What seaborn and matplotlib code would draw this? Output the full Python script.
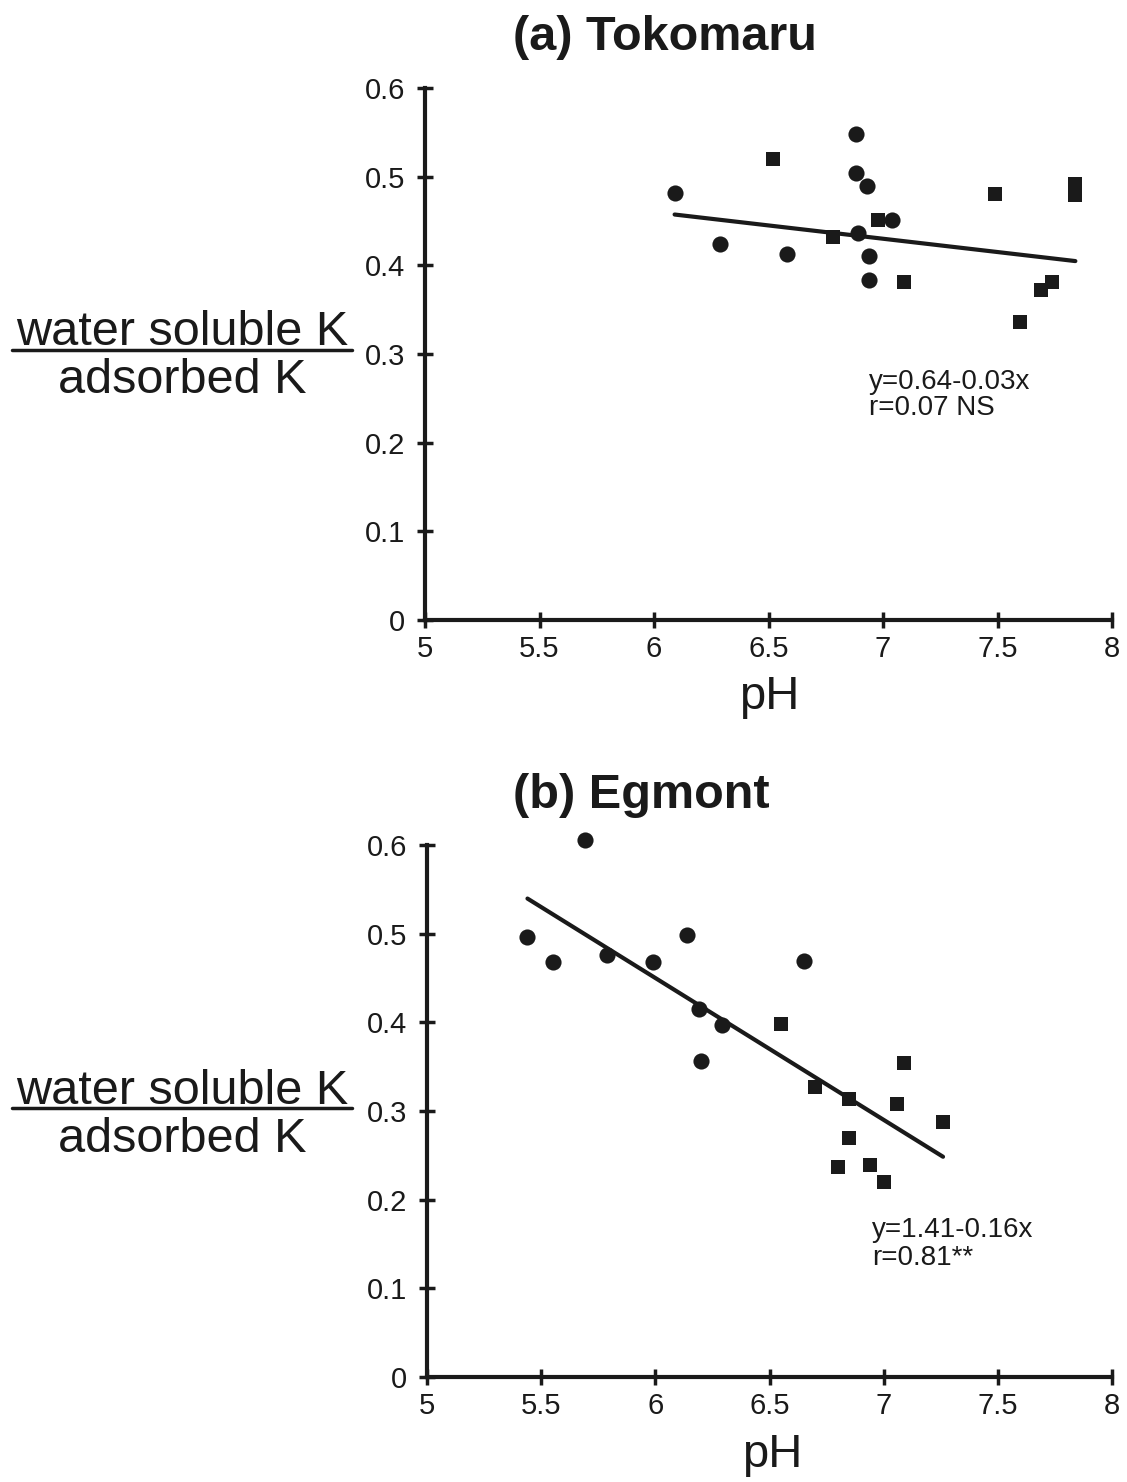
import numpy as np
import pandas as pd
import matplotlib
matplotlib.use("Agg")
import matplotlib.pyplot as plt
from matplotlib.lines import Line2D
import seaborn as sns

# ---- data: K ratio (water soluble / adsorbed) against soil pH ----
toko_ph = [6.09, 6.29, 6.58, 6.88, 6.88, 6.93, 6.89, 6.94, 6.94, 7.04,
           6.52, 6.78, 6.98, 7.09, 7.49, 7.84, 7.84, 7.74, 7.69, 7.60]
toko_ratio = [0.482, 0.424, 0.413, 0.548, 0.504, 0.490, 0.437, 0.411, 0.384, 0.451,
              0.520, 0.432, 0.451, 0.381, 0.481, 0.492, 0.479, 0.381, 0.372, 0.336]
toko_kind = ["circle"] * 10 + ["square"] * 10

egm_ph = [5.69, 5.44, 5.55, 5.79, 5.99, 6.14, 6.65, 6.19, 6.29, 6.20,
          6.55, 6.70, 6.85, 7.09, 7.06, 7.26, 6.85, 6.80, 6.94, 7.00]
egm_ratio = [0.606, 0.496, 0.468, 0.476, 0.468, 0.498, 0.469, 0.415, 0.397, 0.356,
             0.398, 0.327, 0.313, 0.354, 0.308, 0.288, 0.270, 0.237, 0.239, 0.220]
egm_kind = ["circle"] * 10 + ["square"] * 10

# regression equations as printed on each panel
toko_fit = (0.64, -0.03)
egm_fit = (1.41, -0.16)
toko_eq = ["y=0.64-0.03x", "r=0.07 NS"]
egm_eq = ["y=1.41-0.16x", "r=0.81**"]

x_ticks = [5, 5.5, 6, 6.5, 7, 7.5, 8]
x_ticklabels = ["5", "5.5", "6", "6.5", "7", "7.5", "8"]
y_ticks = [0, 0.1, 0.2, 0.3, 0.4, 0.5, 0.6]
y_ticklabels = ["0", "0.1", "0.2", "0.3", "0.4", "0.5", "0.6"]

sns.set_style("ticks")
plt.rcParams["font.family"] = ["Liberation Sans", "DejaVu Sans"]

INK = "#1a1a1a"
W, H = 1127, 1482
fig = plt.figure(figsize=(W / 100, H / 100), dpi=100)


def fx(px):
    return px / W


def fy(py):
    return 1 - py / H


def panel(rect, ph, ratio, kind, fit, eq, eq_xy):
    ax = fig.add_axes(rect)
    df = pd.DataFrame({"pH": ph, "ratio": ratio, "kind": kind})
    for k, m, s in (("circle", "o", 135), ("square", "s", 105)):
        sub = df[df["kind"] == k]
        sns.scatterplot(data=sub, x="pH", y="ratio", marker=m, s=s,
                        color=INK, linewidth=0, ax=ax, clip_on=False, zorder=3)
    xs = np.array([df["pH"].min(), df["pH"].max()])
    ys = fit[0] + fit[1] * xs
    sns.lineplot(x=xs, y=ys, color=INK, linewidth=3.0, ax=ax, zorder=2)
    ax.set_xlim(5, 8)
    ax.set_ylim(0, 0.6)
    ax.set_xticks(x_ticks)
    ax.set_xticklabels(x_ticklabels)
    ax.set_yticks(y_ticks)
    ax.set_yticklabels(y_ticklabels)
    ax.set_xlabel("")
    ax.set_ylabel("")
    for side in ("top", "right"):
        ax.spines[side].set_visible(False)
    for side in ("left", "bottom"):
        ax.spines[side].set_linewidth(3.0)
        ax.spines[side].set_color(INK)
    ax.tick_params(axis="both", direction="inout", length=11, width=2.5,
                   color=INK, labelsize=21, labelcolor=INK)
    ax.tick_params(axis="x", pad=5)
    ax.tick_params(axis="y", pad=9)
    ax.text(eq_xy[0], eq_xy[1], eq[0], fontsize=20, color=INK, va="center", ha="left")
    ax.text(eq_xy[0], eq_xy[2], eq[1], fontsize=20, color=INK, va="center", ha="left")
    return ax


ax1 = panel([fx(425), fy(620), fx(1112) - fx(425), fy(88) - fy(620)],
            toko_ph, toko_ratio, toko_kind, toko_fit, toko_eq, (6.94, 0.268, 0.239))
ax2 = panel([fx(427), fy(1377), fx(1112) - fx(427), fy(845) - fy(1377)],
            egm_ph, egm_ratio, egm_kind, egm_fit, egm_eq, (6.95, 0.166, 0.134))

# panel titles
fig.text(fx(665), fy(38), "(a) Tokomaru", fontsize=35, fontweight="bold",
         color=INK, ha="center", va="center")
fig.text(fx(641), fy(795), "(b) Egmont", fontsize=35, fontweight="bold",
         color=INK, ha="center", va="center")

# x-axis titles
fig.text(fx(769), fy(697), "pH", fontsize=34, color=INK, ha="center", va="center")
fig.text(fx(772), fy(1455), "pH", fontsize=34, color=INK, ha="center", va="center")

# fraction-style y-axis titles
for top_base, bar_y, bot_base in ((345, 350, 393), (1104, 1108, 1152)):
    fig.text(fx(182), fy(top_base), "water soluble K", fontsize=35, color=INK,
             ha="center", va="baseline")
    fig.text(fx(182), fy(bot_base), "adsorbed K", fontsize=35, color=INK,
             ha="center", va="baseline")
    fig.add_artist(Line2D([fx(12), fx(352)], [fy(bar_y), fy(bar_y)],
                          transform=fig.transFigure, color=INK, linewidth=2.5))

fig.savefig("out.png", dpi=100, facecolor="white")
